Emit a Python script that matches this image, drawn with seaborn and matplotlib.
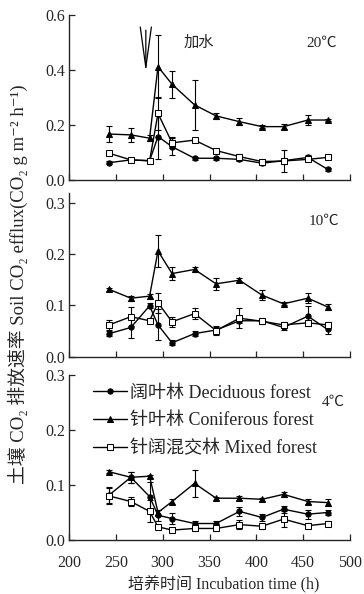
import numpy as np
import pandas as pd
import matplotlib
matplotlib.use("Agg")
import matplotlib.pyplot as plt
import seaborn as sns

# ---------------- data ----------------
times = [243, 266, 286, 295, 310, 334, 357, 382, 406, 429, 455, 476]

# 20 C
dec20 = [0.063, 0.073, 0.070, 0.158, 0.121, 0.079, 0.079, 0.075, 0.061, 0.070, 0.082, 0.039]
dec20_err = [0.005, 0.008, 0.005, 0.08, 0.03, 0.005, 0.005, 0.005, 0.005, 0.04, 0.01, 0.005]
con20 = [0.167, 0.164, 0.152, 0.412, 0.348, 0.273, 0.233, 0.212, 0.194, 0.194, 0.218, 0.218]
con20_err = [0.03, 0.025, 0.01, 0.115, 0.05, 0.09, 0.01, 0.012, 0.006, 0.008, 0.018, 0.005]
mix20 = [0.097, 0.073, 0.070, 0.242, 0.135, 0.145, 0.107, 0.085, 0.067, 0.069, 0.075, 0.082]
mix20_err = [0.005, 0.005, 0.005, 0.06, 0.02, 0.005, 0.005, 0.01, 0.005, 0.01, 0.005, 0.005]

# 10 C
dec10 = [0.045, 0.057, 0.099, 0.062, 0.027, 0.045, 0.052, 0.070, 0.070, 0.057, 0.079, 0.053]
dec10_err = [0.005, 0.02, 0.005, 0.03, 0.005, 0.005, 0.005, 0.005, 0.005, 0.005, 0.02, 0.008]
con10 = [0.131, 0.114, 0.118, 0.206, 0.162, 0.170, 0.142, 0.149, 0.120, 0.103, 0.114, 0.097]
con10_err = [0.003, 0.005, 0.005, 0.032, 0.012, 0.005, 0.012, 0.004, 0.01, 0.003, 0.01, 0.006]
mix10 = [0.062, 0.078, 0.070, 0.105, 0.068, 0.084, 0.051, 0.075, 0.069, 0.062, 0.066, 0.062]
mix10_err = [0.01, 0.018, 0.005, 0.02, 0.01, 0.01, 0.008, 0.02, 0.005, 0.005, 0.005, 0.005]

# 4 C
dec4 = [0.082, 0.114, 0.079, 0.045, 0.039, 0.030, 0.030, 0.052, 0.041, 0.056, 0.047, 0.050]
dec4_err = [0.015, 0.01, 0.027, 0.01, 0.01, 0.005, 0.005, 0.008, 0.006, 0.006, 0.008, 0.005]
con4 = [0.124, 0.114, 0.116, 0.050, 0.070, 0.103, 0.076, 0.076, 0.074, 0.083, 0.070, 0.068]
con4_err = [0.003, 0.01, 0.003, 0.005, 0.005, 0.025, 0.003, 0.004, 0.003, 0.004, 0.005, 0.006]
mix4 = [0.080, 0.070, 0.052, 0.024, 0.018, 0.021, 0.021, 0.028, 0.025, 0.038, 0.026, 0.030]
mix4_err = [0.015, 0.008, 0.02, 0.003, 0.003, 0.005, 0.005, 0.008, 0.005, 0.015, 0.005, 0.005]

forest_labels = ["阔叶林 Deciduous forest", "针叶林 Coniferous forest", "针阔混交林 Mixed forest"]
temp_labels = ["20℃", "10℃", "4℃"]
xticks = [200, 250, 300, 350, 400, 450, 500]
yticks_top = [0.0, 0.2, 0.4, 0.6]
yticks_low = [0.0, 0.1, 0.2, 0.3]
ylabel = "土壤 CO₂ 排放速率 Soil CO₂ efflux(CO₂ g m⁻² h⁻¹)"
xlabel = "培养时间 Incubation time (h)"
water_label = "加水"

# ---------------- style ----------------
sns.set_style("ticks")
plt.rcParams["font.family"] = ["Liberation Serif", "Noto Sans CJK SC", "DejaVu Serif"]
plt.rcParams["xtick.direction"] = "in"
plt.rcParams["ytick.direction"] = "in"
plt.rcParams["axes.linewidth"] = 1.0

fig = plt.figure(figsize=(3.64, 5.94), dpi=100)
ax1 = fig.add_axes([0.1896, 0.697, 0.772, 0.2778])
ax2 = fig.add_axes([0.1896, 0.3995, 0.772, 0.2756])
ax3 = fig.add_axes([0.1896, 0.0909, 0.772, 0.2778])

panels = [
    (ax1, dec20, dec20_err, con20, con20_err, mix20, mix20_err, (0, 0.6), yticks_top),
    (ax2, dec10, dec10_err, con10, con10_err, mix10, mix10_err, (0, 0.319), yticks_low),
    (ax3, dec4, dec4_err, con4, con4_err, mix4, mix4_err, (0, 0.3), yticks_low),
]

for ax, d, de, c, ce, m, me, ylim, yt in panels:
    for vals, errs in [(c, ce), (d, de), (m, me)]:
        ax.errorbar(times, vals, yerr=errs, fmt="none", ecolor="black",
                    elinewidth=0.8, capsize=2, capthick=0.8, zorder=2)
    sns.lineplot(x=times, y=c, ax=ax, color="black", marker="^", markersize=4.5,
                 markeredgecolor="black", markerfacecolor="black", linewidth=1.0,
                 label=forest_labels[1], legend=False, zorder=3)
    sns.lineplot(x=times, y=d, ax=ax, color="black", marker="o", markersize=3.8,
                 markeredgecolor="black", markerfacecolor="black", linewidth=1.0,
                 label=forest_labels[0], legend=False, zorder=3)
    sns.lineplot(x=times, y=m, ax=ax, color="black", marker="s", markersize=4.5,
                 markeredgecolor="black", markerfacecolor="white", linewidth=1.0,
                 label=forest_labels[2], legend=False, zorder=4)
    ax.set_xlim(200, 500)
    ax.set_ylim(*ylim)
    ax.set_yticks(yt)
    ax.set_yticklabels([f"{v:.1f}" for v in yt], fontsize=11.5)
    ax.set_xticks(xticks)
    ax.set_xlabel("")
    ax.set_ylabel("")
    ax.tick_params(axis="y", length=4, width=0.9, pad=3)
    ax.tick_params(axis="x", length=4, width=0.9, pad=11)
    sns.despine(ax=ax)

ax1.set_xticklabels([])
ax2.set_xticklabels([])
ax3.set_xticklabels([str(v) for v in xticks], fontsize=11.5)
ax3.set_xlabel(xlabel, fontsize=11.5)
ax3.xaxis.set_label_coords(0.55, -0.215)

# temperature labels
ax1.text(470, 0.498, temp_labels[0], ha="center", va="center", fontsize=11)
ax2.text(472, 0.263, temp_labels[1], ha="center", va="center", fontsize=11)
ax3.text(482, 0.25, temp_labels[2], ha="center", va="center", fontsize=11)

# water addition
ax1.text(339, 0.498, water_label, ha="center", va="center", fontsize=11)
ax1.annotate("", xy=(282, 0.393), xytext=(282, 0.545),
             arrowprops=dict(arrowstyle="->,head_length=2.9,head_width=0.4",
                             lw=0.9, color="black", shrinkA=0, shrinkB=0))

# legend
h, l = ax3.get_legend_handles_labels()
order = [l.index(forest_labels[0]), l.index(forest_labels[1]), l.index(forest_labels[2])]
ax3.legend([h[i] for i in order], [l[i] for i in order], loc="upper left",
           bbox_to_anchor=(0.06, 0.985), frameon=False, fontsize=13,
           handlelength=1.9, handletextpad=0.15, labelspacing=0.58, borderaxespad=0,
           borderpad=0.4)

fig.text(0.05, 0.522, ylabel, rotation=90, ha="center", va="center", fontsize=13.5)

fig.savefig("out.png", dpi=100)
